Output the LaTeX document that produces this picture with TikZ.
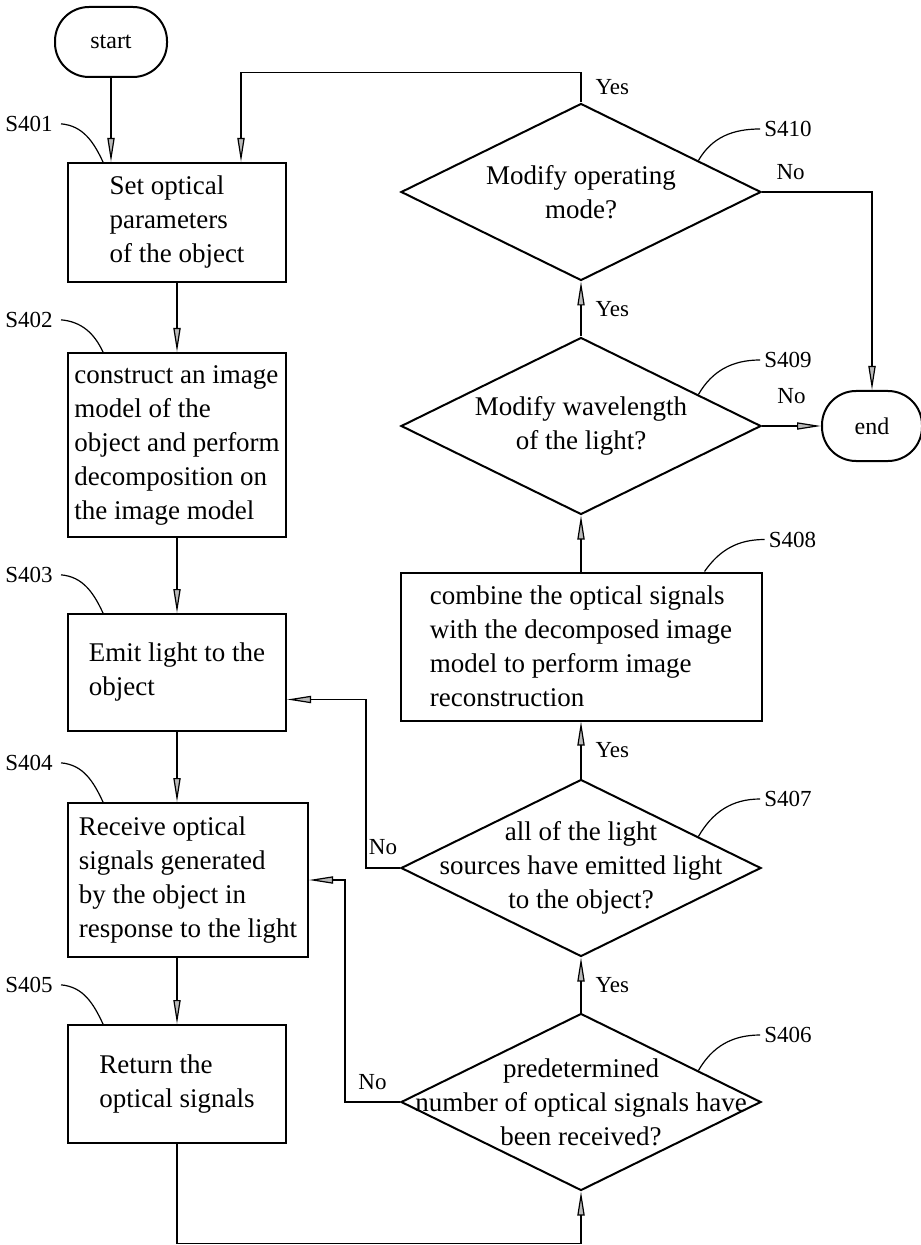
\documentclass[tikz,border=0pt]{standalone}
\usepackage{fontspec}
\setmainfont{Liberation Serif}
\usetikzlibrary{positioning,arrows.meta,shapes.geometric}

\begin{document}
\begin{tikzpicture}[
  box/.style={draw, line width=1pt, align=left, inner sep=0pt,
    font=\fontsize{13.5}{17}\selectfont},
  term/.style={draw, line width=1pt, rounded corners=17pt, minimum width=56pt,
    minimum height=35pt, font=\fontsize{12}{14}\selectfont},
  decision/.style={draw, line width=1pt, diamond, minimum width=180pt,
    minimum height=88.5pt, inner sep=0pt},
  qtext/.style={align=center, font=\fontsize{13.5}{17}\selectfont},
  tag/.style={font=\fontsize{11.5}{13}\selectfont, inner sep=1pt},
  arr/.style={-{Triangle[length=12pt,width=3.6pt,fill=gray!55]}, line width=0.6pt},
  lead/.style={line width=0.6pt}
]
\fill[white] (0,0) rectangle (460pt,-622.5pt);
\useasboundingbox (0,0) rectangle (460pt,-622.5pt);

% left column
\node[term] (start) at (55.5pt,-21pt) {start};
\node[box, minimum width=109pt, minimum height=59.5pt] (s401) at (88.5pt,-111.25pt)
  {Set optical\\parameters\\of the object};
\node[box, minimum width=109pt, minimum height=92pt, below=34.5pt of s401] (s402)
  {construct an image\\model of the\\object and perform\\decomposition on\\the image model};
\node[box, minimum width=109pt, minimum height=58.5pt, below=37.5pt of s402] (s403)
  {Emit light to the\\object};
\node[box, minimum width=120pt, minimum height=77pt, below=35pt of s403, xshift=5.5pt] (s404)
  {Receive optical\\signals generated\\by the object in\\response to the light};
\node[box, minimum width=109pt, minimum height=59pt, below=33pt of s404, xshift=-5.5pt] (s405)
  {Return the\\optical signals};

% right column
\node[decision, label={[qtext]center:{predetermined\\number of optical signals have\\been received?}}]
  (s406) at (290.5pt,-551pt) {};
\node[decision, above=27.5pt of s406,
  label={[qtext]center:{all of the light\\sources have emitted light\\to the object?}}] (s407) {};
\node[box, minimum width=180.5pt, minimum height=74pt, above=28.5pt of s407] (s408)
  {combine the optical signals\\with the decomposed image\\model to perform image\\reconstruction};
\node[decision, above=28pt of s408,
  label={[qtext]center:{Modify wavelength\\of the light?}}] (s409) {};
\node[decision, above=27.5pt of s409,
  label={[qtext]center:{Modify operating\\mode?}}] (s410) {};
\node[term, minimum width=50pt, right=29.5pt of s409] (end) {end};

% step tags
\node[tag, above left=14pt and 6pt of s401.north west] (t401) {S401};
\node[tag, above left=11pt and 6pt of s402.north west] (t402) {S402};
\node[tag, above left=14pt and 6pt of s403.north west] (t403) {S403};
\node[tag, above left=14.5pt and 6pt of s404.north west] (t404) {S404};
\node[tag, above left=14.5pt and 6pt of s405.north west] (t405) {S405};
\node[tag, anchor=west] (t406) at ([yshift=33.5pt]s406.east) {S406};
\node[tag, anchor=west] (t407) at ([yshift=34.5pt]s407.east) {S407};
\node[tag, anchor=west] (t408) at ([xshift=2pt,yshift=16pt]s408.north east) {S408};
\node[tag, anchor=west] (t409) at ([yshift=33pt]s409.east) {S409};
\node[tag, anchor=west] (t410) at ([yshift=31.5pt]s410.east) {S410};

\foreach \s in {401,402,403,404,405}
  \draw[lead] ([xshift=3pt]t\s.east) to[out=-5, in=115] ([xshift=18pt]s\s.north west);
\foreach \s in {406,407,409,410}
  \draw[lead] (s\s.15) to[out=60, in=180] ([xshift=-1pt]t\s.west);
\draw[lead] ([xshift=-29pt]s408.north east) to[out=55, in=180] ([xshift=-1pt]t408.west);

% flow
\draw[arr] (start) -- (start |- s401.north);
\draw[arr] (s401) -- (s402);
\draw[arr] (s402) -- (s403);
\draw[arr] (s403.south) -- (s403.south |- s404.north);
\draw[arr] (s405.north |- s404.south) -- (s405.north);
\coordinate[below=26pt of s406.south] (bot);
\draw[arr] (s405.south) |- (bot) -- (s406.south);
\draw[arr] (s406) -- node[tag, right, xshift=6pt] {Yes} (s407);
\draw[arr] (s407) -- node[tag, right, xshift=6pt] {Yes} (s408);
\draw[arr] (s408) -- (s409);
\draw[arr] (s409) -- node[tag, right, xshift=6pt] {Yes} (s410);
\coordinate[above=15pt of s410.north] (loop);
\draw[arr] (s410.north) -- node[tag, right, xshift=6pt] {Yes} (loop)
  -| ([xshift=32pt]s401.north);
\draw[arr] (s410.east) -| node[tag, above, pos=0.13, yshift=5pt] {No} (end.north);
\draw[arr] (s409.east) -- node[tag, above, yshift=10pt] {No} (end.west);
\draw[arr] (s407.west) -- node[tag, above, yshift=5.5pt] {No} ++(-17pt,0)
  |- ([yshift=-13.5pt]s403.east);
\draw[arr] (s406.west) -- node[tag, above, yshift=5pt] {No} ++(-27.5pt,0)
  |- (s404.east);
\end{tikzpicture}
\end{document}
